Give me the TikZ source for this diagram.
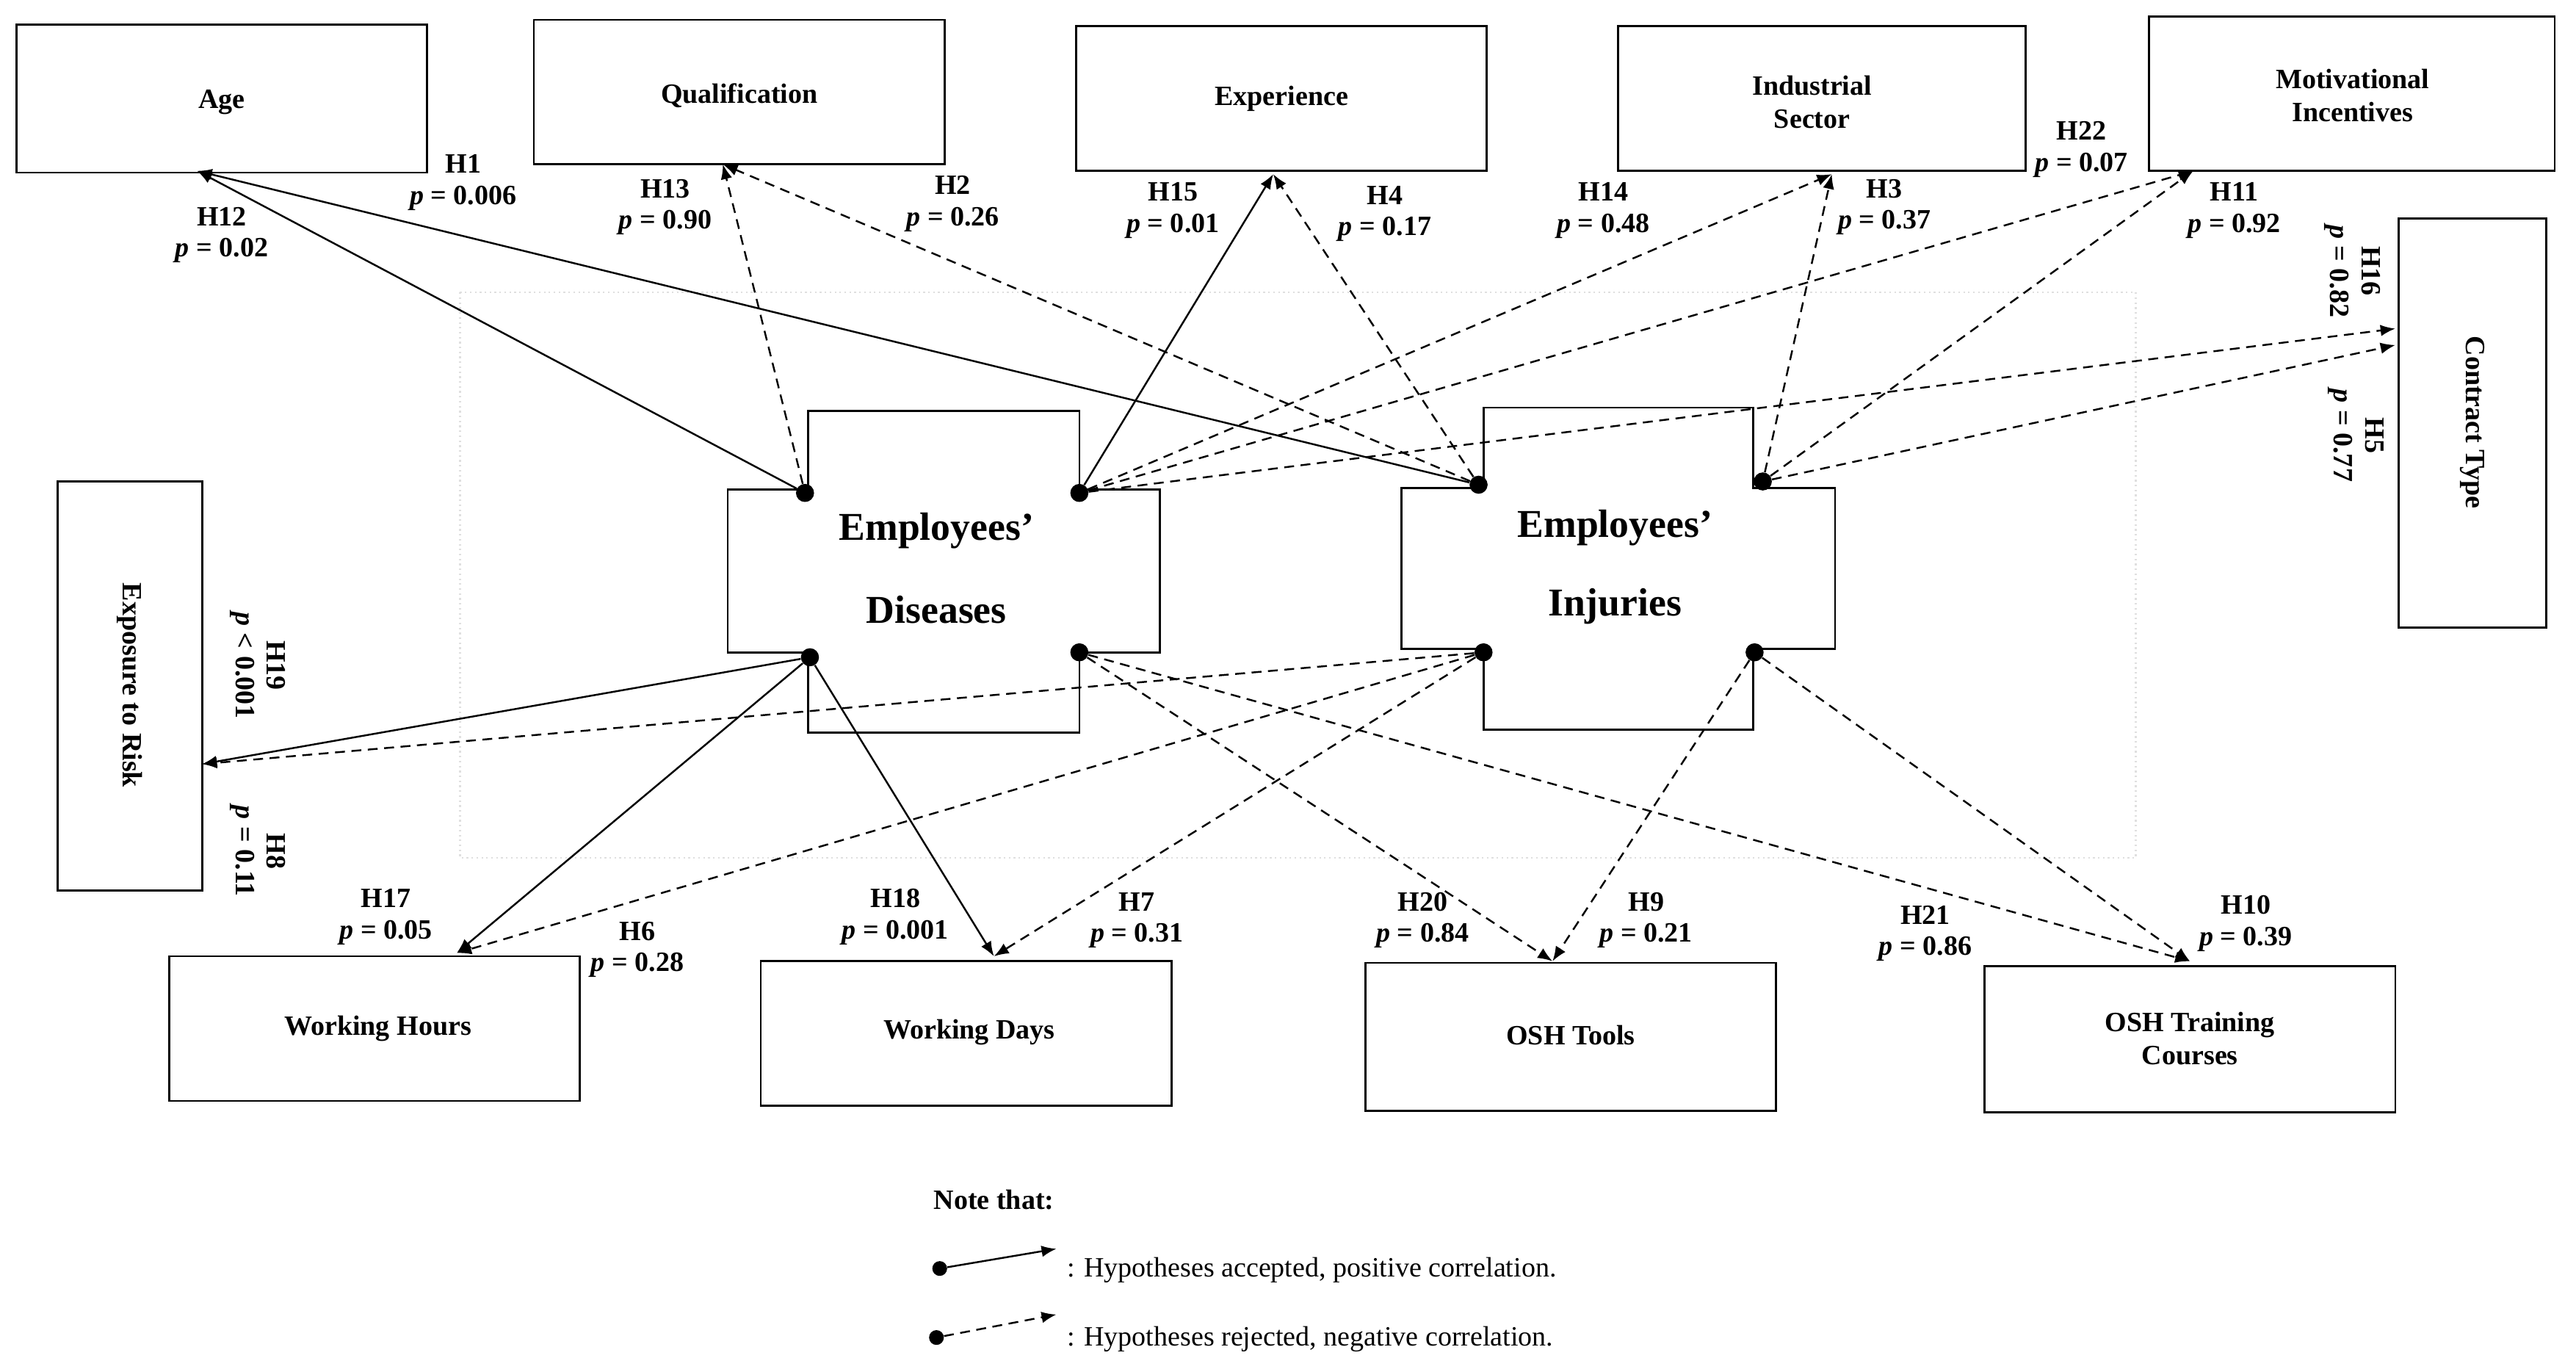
\documentclass[tikz,border=0pt]{standalone}
\usepackage{fontspec}
\setmainfont{Liberation Serif}
\usetikzlibrary{arrows.meta}
\newcommand{\pp}{\textbf{\textit{p}}}
\newcommand{\apos}{{\char"27}}
\begin{document}
\begin{tikzpicture}[x=1pt,y=-1pt,
 box/.style={draw,line width=1.2pt},
 bt/.style={font=\fontsize{17}{20}\selectfont\bfseries,align=center},
 lb/.style={font=\fontsize{17}{19}\selectfont\bfseries,align=center},
 ct/.style={font=\fontsize{24}{28}\selectfont\bfseries},
 acc/.style={line width=1.1pt,-{Latex[length=9pt,width=7pt]}},
 rej/.style={line width=1.1pt,dash pattern=on 6pt off 4pt,-{Latex[length=9pt,width=7pt]}},
 dot/.style={circle,fill,inner sep=0pt,minimum size=11pt}]
\useasboundingbox (0,0) rectangle (1568,833);
\draw[gray!25,line width=1pt,dotted] (280,178) rectangle (1300,522);
% boxes
\draw[box] (10,15) rectangle (260,105); \node[bt] (age) at (135,62) {Age};
\draw[box] (325,12) rectangle (575,100); \node[bt] (qual) at (450,58) {Qualification};
\draw[box] (655,16) rectangle (905,104); \node[bt] (exp) at (780,60) {Experience};
\draw[box] (985,16) rectangle (1233,104); \node[bt] (ind) at (1103,62) {Industrial\\Sector};
\draw[box] (1308,10) rectangle (1555,104); \node[bt] (mot) at (1432,58) {Motivational\\Incentives};
\draw[box] (1460,133) rectangle (1550,382); \node[bt,rotate=-90] (con) at (1505,257) {Contract Type};
\draw[box] (35,293) rectangle (123,542); \node[bt,rotate=-90] (expo) at (79,417) {Exposure to Risk};
\draw[box] (103,582) rectangle (353,670); \node[bt] (wh) at (230,626) {Working Hours};
\draw[box] (463,585) rectangle (713,673); \node[bt] (wd) at (590,628) {Working Days};
\draw[box] (831,586) rectangle (1081,676); \node[bt] (osht) at (956,630) {OSH Tools};
\draw[box] (1208,588) rectangle (1458,677); \node[bt] (oshc) at (1333,632) {OSH Training\\Courses};
% crosses
\draw[box] (492,250) -- (657,250) -- (657,298) -- (706,298) -- (706,397) -- (657,397) -- (657,446) -- (492,446) -- (492,397) -- (443,397) -- (443,298) -- (492,298) -- cycle;
\node[ct] (dis1) at (570,323) {Employees\apos}; \node[ct] (dis2) at (570,371) {Diseases};
\draw[box] (903,248) -- (1067,248) -- (1067,297) -- (1117,297) -- (1117,395) -- (1067,395) -- (1067,444) -- (903,444) -- (903,395) -- (853,395) -- (853,297) -- (903,297) -- cycle;
\node[ct] (inj1) at (983,321) {Employees\apos}; \node[ct] (inj2) at (983,369) {Injuries};
% dots
\node[dot] (d1) at (490,300) {}; \node[dot] (d2) at (657,300) {};
\node[dot] (d3) at (493,400) {}; \node[dot] (d4) at (657,397) {};
\node[dot] (i1) at (900,295) {}; \node[dot] (i2) at (1073,293) {};
\node[dot] (i3) at (903,397) {}; \node[dot] (i4) at (1068,397) {};
% targets
\coordinate (tAge) at (120,104); \coordinate (tQ) at (440,100); \coordinate (tE) at (775,106);
\coordinate (tI) at (1115,106); \coordinate (tM) at (1335,104); \coordinate (tC1) at (1458,200);
\coordinate (tC2) at (1458,210); \coordinate (tX) at (123,465); \coordinate (tWH) at (278,580);
\coordinate (tWD) at (605,582); \coordinate (tOT) at (945,585); \coordinate (tOC) at (1333,585);
\draw[acc] (d1) -- (tAge); \draw[acc] (i1) -- (tAge);
\draw[rej] (d1) -- (tQ); \draw[rej] (i1) -- (tQ);
\draw[acc] (d2) -- (tE); \draw[rej] (i1) -- (tE);
\draw[rej] (d2) -- (tI); \draw[rej] (i2) -- (tI);
\draw[rej] (d2) -- (tM); \draw[rej] (i2) -- (tM);
\draw[rej] (d2) -- (tC1); \draw[rej] (i2) -- (tC2);
\draw[acc] (d3) -- (tX); \draw[rej] (i3) -- (tX);
\draw[acc] (d3) -- (tWH); \draw[rej] (i3) -- (tWH);
\draw[acc] (d3) -- (tWD); \draw[rej] (i3) -- (tWD);
\draw[rej] (d4) -- (tOT); \draw[rej] (i4) -- (tOT);
\draw[rej] (d4) -- (tOC); \draw[rej] (i4) -- (tOC);
% labels
\node[lb] (l1) at (282,111) {H1\\\pp{} = 0.006};
\node[lb] (l12) at (135,143) {H12\\\pp{} = 0.02};
\node[lb] (l13) at (405,126) {H13\\\pp{} = 0.90};
\node[lb] (l2) at (580,124) {H2\\\pp{} = 0.26};
\node[lb] (l15) at (714,128) {H15\\\pp{} = 0.01};
\node[lb] (l4) at (843,130) {H4\\\pp{} = 0.17};
\node[lb] (l14) at (976,128) {H14\\\pp{} = 0.48};
\node[lb] (l3) at (1147,126) {H3\\\pp{} = 0.37};
\node[lb] (l22) at (1267,91) {H22\\\pp{} = 0.07};
\node[lb] (l11) at (1360,128) {H11\\\pp{} = 0.92};
\node[lb,rotate=-90] (l16) at (1432,165) {H16\\\pp{} = 0.82};
\node[lb,rotate=-90] (l5) at (1434,265) {H5\\\pp{} = 0.77};
\node[lb,rotate=-90] (l19) at (157,405) {H19\\\pp{} < 0.001};
\node[lb,rotate=-90] (l8) at (157,518) {H8\\\pp{} = 0.11};
\node[lb] (l17) at (235,558) {H17\\\pp{} = 0.05};
\node[lb] (l6) at (388,578) {H6\\\pp{} = 0.28};
\node[lb] (l18) at (545,558) {H18\\\pp{} = 0.001};
\node[lb] (l7) at (692,560) {H7\\\pp{} = 0.31};
\node[lb] (l20) at (866,560) {H20\\\pp{} = 0.84};
\node[lb] (l9) at (1002,560) {H9\\\pp{} = 0.21};
\node[lb] (l21) at (1172,568) {H21\\\pp{} = 0.86};
\node[lb] (l10) at (1367,562) {H10\\\pp{} = 0.39};
% legend
\node[lb] (note) at (605,730) {Note that:};
\node[dot,minimum size=9pt] (ld1) at (572,772) {}; \coordinate (la1) at (643,760);
\draw[acc] (ld1) -- (la1);
\node[font=\fontsize{17}{19}\selectfont,anchor=west] (lt1) at (646,773) {: Hypotheses accepted, positive correlation.};
\node[dot,minimum size=9pt] (ld2) at (570,814) {}; \coordinate (la2) at (643,800);
\draw[rej] (ld2) -- (la2);
\node[font=\fontsize{17}{19}\selectfont,anchor=west] (lt2) at (646,815) {: Hypotheses rejected, negative correlation.};
\end{tikzpicture}
\end{document}
